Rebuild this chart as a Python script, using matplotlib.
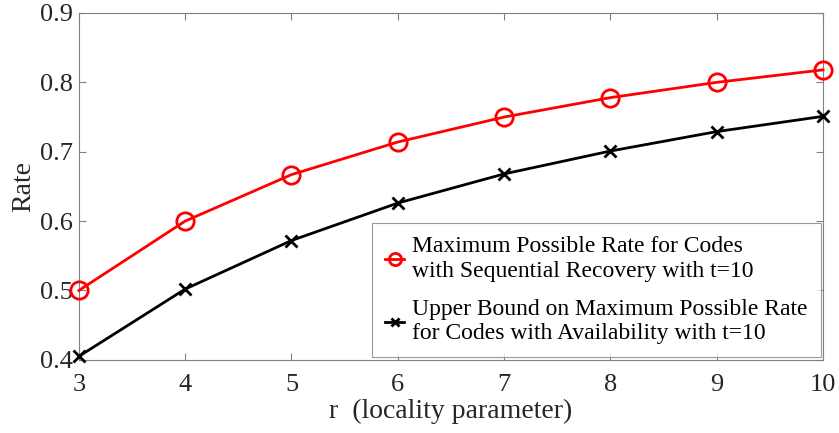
import matplotlib.pyplot as plt
import numpy as np

# data
r = [3, 4, 5, 6, 7, 8, 9, 10]
rate_seq = [0.500, 0.600, 0.667, 0.714, 0.750, 0.778, 0.800, 0.818]
rate_avail = [0.405, 0.502, 0.572, 0.626, 0.668, 0.701, 0.729, 0.751]

plt.rcParams['font.family'] = ['Liberation Serif', 'DejaVu Serif']

fig = plt.figure(figsize=(8.39, 4.33), dpi=100)
ax = fig.add_axes([0.094, 0.169, 0.887, 0.801])

ax.plot(r, rate_seq, color='red', lw=2, marker='o', ms=12.5, mfc='none', mew=2,
        clip_on=False, zorder=3,
        label='Maximum Possible Rate for Codes\nwith Sequential Recovery with t=10')
ax.plot(r, rate_avail, color='black', lw=2, marker='x', ms=9, mew=2,
        clip_on=False, zorder=3,
        label='Upper Bound on Maximum Possible Rate\nfor Codes with Availability with t=10')

ax.set_xlim(3, 10)
ax.set_ylim(0.4, 0.9)
ax.set_xticks(r)
ax.set_yticks(np.arange(0.4, 0.91, 0.1))
ax.set_yticklabels(['0.4', '0.5', '0.6', '0.7', '0.8', '0.9'])

for s in ax.spines.values():
    s.set_color('#808080')
    s.set_linewidth(0.8)
ax.tick_params(direction='in', length=5, colors='#808080', labelcolor='#262626',
               labelsize=19, top=True, right=True)
ax.tick_params(axis='x', pad=10)
ax.tick_params(axis='y', pad=4)
ax.set_xlabel('r  (locality parameter)', fontsize=20, color='#262626', labelpad=2)
ax.set_ylabel('Rate', fontsize=20, color='#262626', labelpad=3)

leg = ax.legend(loc='lower right', bbox_to_anchor=(1.0, 0.0), fontsize=17,
                frameon=True, fancybox=False, edgecolor='#808080',
                handlelength=0.8, handletextpad=0.35, borderpad=0.55,
                labelspacing=0.75, borderaxespad=0.1, markerscale=0.7)
leg.get_frame().set_linewidth(0.8)
leg.set_zorder(5)

fig.savefig('out.png', dpi=100)
